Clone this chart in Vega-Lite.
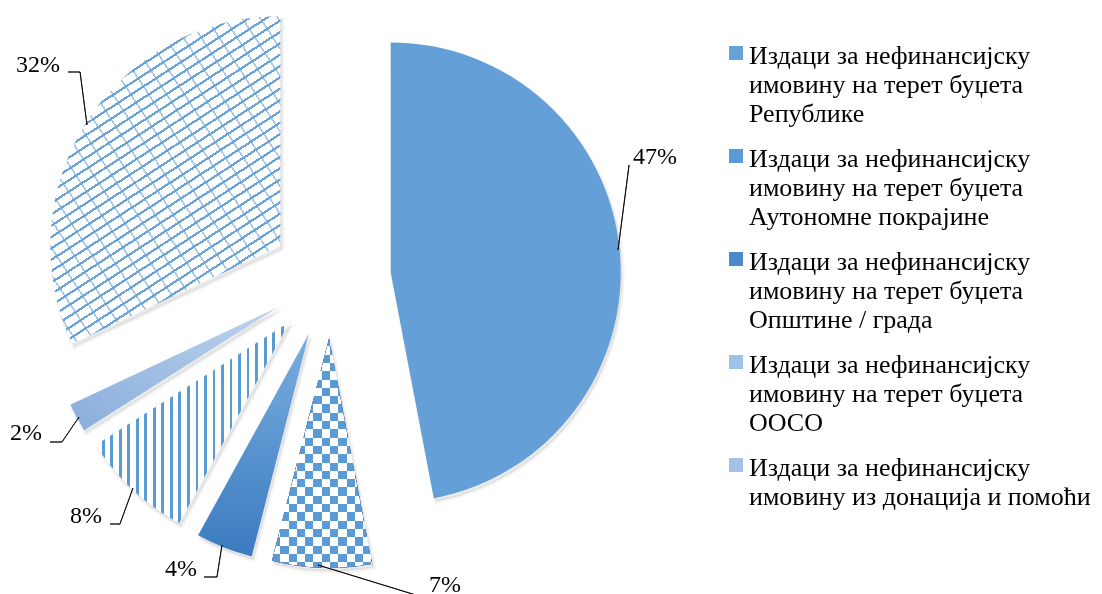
{
  "$schema": "https://vega.github.io/schema/vega-lite/v6.json",
  "width": 662,
  "height": 556,
  "padding": 0,
  "autosize": {"type": "pad"},
  "background": "#ffffff",
  "config": {"view": {"stroke": null}},
  "data": {
    "values": [
      {"category": "Издаци за нефинансијску имовину на терет буџета Републике", "value": 0.47, "order": 1},
      {"category": "Издаци за нефинансијску имовину на терет буџета Аутономне покрајине", "value": 0.07, "order": 2},
      {"category": "Издаци за нефинансијску имовину на терет буџета Општине / града", "value": 0.04, "order": 3},
      {"category": "Издаци за нефинансијску имовину на терет буџета ООСО", "value": 0.08, "order": 4},
      {"category": "Издаци за нефинансијску имовину из донација и помоћи", "value": 0.02, "order": 5},
      {"category": "Издаци за нефинансијску имовину из осталих извора", "value": 0.32, "order": 6}
    ]
  },
  "transform": [
    {"stack": "value", "groupby": [], "sort": [{"field": "order", "order": "ascending"}], "as": ["v0", "v1"]}
  ],
  "layer": [
    {
      "mark": {"type": "arc", "radius": 230, "opacity": 0},
      "encoding": {
        "theta": {"field": "v0", "type": "quantitative", "scale": {"domain": [0, 1]}},
        "theta2": {"field": "v1"},
        "color": {
          "field": "category", "type": "nominal",
          "scale": {
            "domain": [
              "Издаци за нефинансијску имовину на терет буџета Републике",
              "Издаци за нефинансијску имовину на терет буџета Аутономне покрајине",
              "Издаци за нефинансијску имовину на терет буџета Општине / града",
              "Издаци за нефинансијску имовину на терет буџета ООСО",
              "Издаци за нефинансијску имовину из донација и помоћи",
              "Издаци за нефинансијску имовину из осталих извора"
            ],
            "range": ["#68a2d8", "#5b9bd5", "#4a89cb", "#9cc3e9", "#a3c0e6", "#cfe0f2"]
          },
          "legend": {
            "orient": "none", "legendX": 723, "legendY": 40, "padding": 0,
            "title": null,
            "values": [
              "Издаци за нефинансијску имовину на терет буџета Републике",
              "Издаци за нефинансијску имовину на терет буџета Аутономне покрајине",
              "Издаци за нефинансијску имовину на терет буџета Општине / града",
              "Издаци за нефинансијску имовину на терет буџета ООСО",
              "Издаци за нефинансијску имовину из донација и помоћи"
            ],
            "symbolType": "square", "symbolSize": 196, "symbolOpacity": 1, "symbolStrokeWidth": 0,
            "labelFont": "Liberation Serif", "labelFontSize": 26, "labelColor": "#000000", "labelLimit": 0,
            "labelBaseline": "top", "labelOffset": 0, "rowPadding": 16,
            "labelExpr": "split(replace(replace(datum.label, 'нефинансијску ', 'нефинансијску|'), 'буџета ', 'буџета|'), '|')",
            "encode": {"labels": {"update": {"lineHeight": {"value": 29}, "dy": {"value": -10.5}}}}
          }
        }
      }
    },
    {
      "transform": [{"filter": "datum.order == 1"}],
      "layer": [
        {
          "mark": {"type": "arc", "radius": 230, "xOffset": 61.7, "yOffset": -2.1, "fill": "#000000", "fillOpacity": 0.08, "stroke": "#000000", "strokeOpacity": 0.04, "strokeWidth": 4},
          "encoding": {"theta": {"field": "v0", "type": "quantitative", "scale": {"domain": [0, 1]}}, "theta2": {"field": "v1"}}
        },
        {
          "mark": {"type": "arc", "radius": 230, "xOffset": 59.7, "yOffset": -5.6, "fill": "#64a0d7"},
          "encoding": {"theta": {"field": "v0", "type": "quantitative", "scale": {"domain": [0, 1]}}, "theta2": {"field": "v1"}}
        },
        {
          "mark": {"type": "text", "radius": 288.4, "thetaOffset": 1.1593, "xOffset": 59.7, "yOffset": -5.6, "font": "Liberation Serif", "fontSize": 24, "color": "#000000"},
          "encoding": {"theta": {"field": "v0", "type": "quantitative", "stack": null}, "text": {"field": "value", "type": "quantitative", "format": ".0%"}}
        },
        {
          "mark": {"type": "arc", "theta": 0.1287, "theta2": 0.1307, "radius": 85.7, "radius2": 0, "xOffset": 287, "yOffset": -28, "fill": "#000000", "stroke": "#000000", "strokeWidth": 0.8},
          "encoding": {}
        }
      ]
    },
    {
      "transform": [{"filter": "datum.order == 2"}],
      "layer": [
        {
          "mark": {"type": "arc", "radius": 230, "xOffset": 0.1, "yOffset": 63.5, "fill": "#000000", "fillOpacity": 0.08, "stroke": "#000000", "strokeOpacity": 0.04, "strokeWidth": 4},
          "encoding": {"theta": {"field": "v0", "type": "quantitative", "scale": {"domain": [0, 1]}}, "theta2": {"field": "v1"}}
        },
        {
          "mark": {"type": "arc", "radius": 230, "xOffset": -1.9, "yOffset": 60,
            "fill": {"gradient": "linear", "x1": 0, "y1": 0, "x2": 1, "y2": 0, "stops": [
              {"offset": 0, "color": "#000000"}, {"offset": 0.0828, "color": "#000000"}, {"offset": 0.0828, "color": "#ffffff"}, {"offset": 0.1655, "color": "#ffffff"},
              {"offset": 0.1655, "color": "#000000"}, {"offset": 0.2483, "color": "#000000"}, {"offset": 0.2483, "color": "#ffffff"}, {"offset": 0.331, "color": "#ffffff"},
              {"offset": 0.331, "color": "#000000"}, {"offset": 0.4138, "color": "#000000"}, {"offset": 0.4138, "color": "#ffffff"}, {"offset": 0.4965, "color": "#ffffff"},
              {"offset": 0.4965, "color": "#000000"}, {"offset": 0.5793, "color": "#000000"}, {"offset": 0.5793, "color": "#ffffff"}, {"offset": 0.662, "color": "#ffffff"},
              {"offset": 0.662, "color": "#000000"}, {"offset": 0.7448, "color": "#000000"}, {"offset": 0.7448, "color": "#ffffff"}, {"offset": 0.8275, "color": "#ffffff"},
              {"offset": 0.8275, "color": "#000000"}, {"offset": 0.9103, "color": "#000000"}, {"offset": 0.9103, "color": "#ffffff"}, {"offset": 0.993, "color": "#ffffff"},
              {"offset": 0.993, "color": "#000000"}, {"offset": 1, "color": "#000000"}
            ]}},
          "encoding": {"theta": {"field": "v0", "type": "quantitative", "scale": {"domain": [0, 1]}}, "theta2": {"field": "v1"}}
        },
        {
          "mark": {"type": "arc", "radius": 230, "xOffset": -1.9, "yOffset": 60, "blend": "difference",
            "fill": {"gradient": "linear", "x1": 0, "y1": 0, "x2": 0, "y2": 1, "stops": [
              {"offset": 0, "color": "#000000"}, {"offset": 0.0361, "color": "#000000"}, {"offset": 0.0361, "color": "#ffffff"}, {"offset": 0.0722, "color": "#ffffff"},
              {"offset": 0.0722, "color": "#000000"}, {"offset": 0.1083, "color": "#000000"}, {"offset": 0.1083, "color": "#ffffff"}, {"offset": 0.1444, "color": "#ffffff"},
              {"offset": 0.1444, "color": "#000000"}, {"offset": 0.1805, "color": "#000000"}, {"offset": 0.1805, "color": "#ffffff"}, {"offset": 0.2165, "color": "#ffffff"},
              {"offset": 0.2165, "color": "#000000"}, {"offset": 0.2526, "color": "#000000"}, {"offset": 0.2526, "color": "#ffffff"}, {"offset": 0.2887, "color": "#ffffff"},
              {"offset": 0.2887, "color": "#000000"}, {"offset": 0.3248, "color": "#000000"}, {"offset": 0.3248, "color": "#ffffff"}, {"offset": 0.3609, "color": "#ffffff"},
              {"offset": 0.3609, "color": "#000000"}, {"offset": 0.397, "color": "#000000"}, {"offset": 0.397, "color": "#ffffff"}, {"offset": 0.4331, "color": "#ffffff"},
              {"offset": 0.4331, "color": "#000000"}, {"offset": 0.4692, "color": "#000000"}, {"offset": 0.4692, "color": "#ffffff"}, {"offset": 0.5053, "color": "#ffffff"},
              {"offset": 0.5053, "color": "#000000"}, {"offset": 0.5414, "color": "#000000"}, {"offset": 0.5414, "color": "#ffffff"}, {"offset": 0.5774, "color": "#ffffff"},
              {"offset": 0.5774, "color": "#000000"}, {"offset": 0.6135, "color": "#000000"}, {"offset": 0.6135, "color": "#ffffff"}, {"offset": 0.6496, "color": "#ffffff"},
              {"offset": 0.6496, "color": "#000000"}, {"offset": 0.6857, "color": "#000000"}, {"offset": 0.6857, "color": "#ffffff"}, {"offset": 0.7218, "color": "#ffffff"},
              {"offset": 0.7218, "color": "#000000"}, {"offset": 0.7579, "color": "#000000"}, {"offset": 0.7579, "color": "#ffffff"}, {"offset": 0.794, "color": "#ffffff"},
              {"offset": 0.794, "color": "#000000"}, {"offset": 0.8301, "color": "#000000"}, {"offset": 0.8301, "color": "#ffffff"}, {"offset": 0.8662, "color": "#ffffff"},
              {"offset": 0.8662, "color": "#000000"}, {"offset": 0.9023, "color": "#000000"}, {"offset": 0.9023, "color": "#ffffff"}, {"offset": 0.9383, "color": "#ffffff"},
              {"offset": 0.9383, "color": "#000000"}, {"offset": 0.9744, "color": "#000000"}, {"offset": 0.9744, "color": "#ffffff"}, {"offset": 1, "color": "#ffffff"}
            ]}},
          "encoding": {"theta": {"field": "v0", "type": "quantitative", "scale": {"domain": [0, 1]}}, "theta2": {"field": "v1"}}
        },
        {
          "mark": {"type": "arc", "radius": 230, "xOffset": -1.9, "yOffset": 60, "blend": "lighten", "fill": "#5b9bd5"},
          "encoding": {"theta": {"field": "v0", "type": "quantitative", "scale": {"domain": [0, 1]}}, "theta2": {"field": "v1"}}
        },
        {
          "mark": {"type": "text", "radius": 272.8, "thetaOffset": -0.2503, "xOffset": -1.9, "yOffset": 60, "font": "Liberation Serif", "fontSize": 24, "color": "#000000"},
          "encoding": {"theta": {"field": "v0", "type": "quantitative", "stack": null}, "text": {"field": "value", "type": "quantitative", "format": ".0%"}}
        },
        {
          "mark": {"type": "arc", "theta": 1.8675, "theta2": 1.8695, "radius": 110, "radius2": 0, "xOffset": -13, "yOffset": 287, "fill": "#000000", "stroke": "#000000", "strokeWidth": 0.8},
          "encoding": {}
        }
      ]
    },
    {
      "transform": [{"filter": "datum.order == 3"}],
      "layer": [
        {
          "mark": {"type": "arc", "radius": 230, "xOffset": -20.1, "yOffset": 59.3, "fill": "#000000", "fillOpacity": 0.08, "stroke": "#000000", "strokeOpacity": 0.04, "strokeWidth": 4},
          "encoding": {"theta": {"field": "v0", "type": "quantitative", "scale": {"domain": [0, 1]}}, "theta2": {"field": "v1"}}
        },
        {
          "mark": {"type": "arc", "radius": 230, "xOffset": -22.1, "yOffset": 55.8,
            "fill": {"gradient": "linear", "x1": 0, "y1": 0, "x2": 0, "y2": 1, "stops": [{"offset": 0, "color": "#7aaedf"}, {"offset": 1, "color": "#3b7bc0"}]}},
          "encoding": {"theta": {"field": "v0", "type": "quantitative", "scale": {"domain": [0, 1]}}, "theta2": {"field": "v1"}}
        },
        {
          "mark": {"type": "text", "radius": 267.7, "thetaOffset": 0.2468, "xOffset": -22.1, "yOffset": 55.8, "font": "Liberation Serif", "fontSize": 24, "color": "#000000"},
          "encoding": {"theta": {"field": "v0", "type": "quantitative", "stack": null}, "text": {"field": "value", "type": "quantitative", "format": ".0%"}}
        },
        {
          "mark": {"type": "arc", "theta": 3.2966, "theta2": 3.2986, "radius": 32.4, "radius2": 0, "xOffset": -109, "yOffset": 267, "fill": "#000000", "stroke": "#000000", "strokeWidth": 0.8},
          "encoding": {}
        },
        {
          "mark": {"type": "arc", "theta": 4.7124, "theta2": 4.7144, "radius": 13, "radius2": 0, "xOffset": -114, "yOffset": 299, "fill": "#000000", "stroke": "#000000", "strokeWidth": 0.8},
          "encoding": {}
        }
      ]
    },
    {
      "transform": [{"filter": "datum.order == 4"}],
      "layer": [
        {
          "mark": {"type": "arc", "radius": 230, "xOffset": -39.1, "yOffset": 47.2, "fill": "#000000", "fillOpacity": 0.08, "stroke": "#000000", "strokeOpacity": 0.04, "strokeWidth": 4},
          "encoding": {"theta": {"field": "v0", "type": "quantitative", "scale": {"domain": [0, 1]}}, "theta2": {"field": "v1"}}
        },
        {
          "mark": {"type": "arc", "radius": 230, "xOffset": -41.1, "yOffset": 43.7,
            "fill": {"gradient": "linear", "x1": 0, "y1": 0, "x2": 1, "y2": 0, "stops": [
              {"offset": 0.0309, "color": "#ffffff"}, {"offset": 0.0309, "color": "#5b9bd5"}, {"offset": 0.0453, "color": "#5b9bd5"}, {"offset": 0.0453, "color": "#ffffff"},
              {"offset": 0.0748, "color": "#ffffff"}, {"offset": 0.0748, "color": "#5b9bd5"}, {"offset": 0.0892, "color": "#5b9bd5"}, {"offset": 0.0892, "color": "#ffffff"},
              {"offset": 0.1187, "color": "#ffffff"}, {"offset": 0.1187, "color": "#5b9bd5"}, {"offset": 0.1331, "color": "#5b9bd5"}, {"offset": 0.1331, "color": "#ffffff"},
              {"offset": 0.1627, "color": "#ffffff"}, {"offset": 0.1627, "color": "#5b9bd5"}, {"offset": 0.1771, "color": "#5b9bd5"}, {"offset": 0.1771, "color": "#ffffff"},
              {"offset": 0.2066, "color": "#ffffff"}, {"offset": 0.2066, "color": "#5b9bd5"}, {"offset": 0.221, "color": "#5b9bd5"}, {"offset": 0.221, "color": "#ffffff"},
              {"offset": 0.2505, "color": "#ffffff"}, {"offset": 0.2505, "color": "#5b9bd5"}, {"offset": 0.2649, "color": "#5b9bd5"}, {"offset": 0.2649, "color": "#ffffff"},
              {"offset": 0.2944, "color": "#ffffff"}, {"offset": 0.2944, "color": "#5b9bd5"}, {"offset": 0.3088, "color": "#5b9bd5"}, {"offset": 0.3088, "color": "#ffffff"},
              {"offset": 0.3383, "color": "#ffffff"}, {"offset": 0.3383, "color": "#5b9bd5"}, {"offset": 0.3527, "color": "#5b9bd5"}, {"offset": 0.3527, "color": "#ffffff"},
              {"offset": 0.3823, "color": "#ffffff"}, {"offset": 0.3823, "color": "#5b9bd5"}, {"offset": 0.3967, "color": "#5b9bd5"}, {"offset": 0.3967, "color": "#ffffff"},
              {"offset": 0.4262, "color": "#ffffff"}, {"offset": 0.4262, "color": "#5b9bd5"}, {"offset": 0.4406, "color": "#5b9bd5"}, {"offset": 0.4406, "color": "#ffffff"},
              {"offset": 0.4701, "color": "#ffffff"}, {"offset": 0.4701, "color": "#5b9bd5"}, {"offset": 0.4845, "color": "#5b9bd5"}, {"offset": 0.4845, "color": "#ffffff"},
              {"offset": 0.514, "color": "#ffffff"}, {"offset": 0.514, "color": "#5b9bd5"}, {"offset": 0.5284, "color": "#5b9bd5"}, {"offset": 0.5284, "color": "#ffffff"},
              {"offset": 0.5579, "color": "#ffffff"}, {"offset": 0.5579, "color": "#5b9bd5"}, {"offset": 0.5723, "color": "#5b9bd5"}, {"offset": 0.5723, "color": "#ffffff"},
              {"offset": 0.6019, "color": "#ffffff"}, {"offset": 0.6019, "color": "#5b9bd5"}, {"offset": 0.6163, "color": "#5b9bd5"}, {"offset": 0.6163, "color": "#ffffff"},
              {"offset": 0.6458, "color": "#ffffff"}, {"offset": 0.6458, "color": "#5b9bd5"}, {"offset": 0.6602, "color": "#5b9bd5"}, {"offset": 0.6602, "color": "#ffffff"},
              {"offset": 0.6897, "color": "#ffffff"}, {"offset": 0.6897, "color": "#5b9bd5"}, {"offset": 0.7041, "color": "#5b9bd5"}, {"offset": 0.7041, "color": "#ffffff"},
              {"offset": 0.7336, "color": "#ffffff"}, {"offset": 0.7336, "color": "#5b9bd5"}, {"offset": 0.748, "color": "#5b9bd5"}, {"offset": 0.748, "color": "#ffffff"},
              {"offset": 0.7775, "color": "#ffffff"}, {"offset": 0.7775, "color": "#5b9bd5"}, {"offset": 0.7919, "color": "#5b9bd5"}, {"offset": 0.7919, "color": "#ffffff"},
              {"offset": 0.8215, "color": "#ffffff"}, {"offset": 0.8215, "color": "#5b9bd5"}, {"offset": 0.8359, "color": "#5b9bd5"}, {"offset": 0.8359, "color": "#ffffff"},
              {"offset": 0.8654, "color": "#ffffff"}, {"offset": 0.8654, "color": "#5b9bd5"}, {"offset": 0.8798, "color": "#5b9bd5"}, {"offset": 0.8798, "color": "#ffffff"},
              {"offset": 0.9093, "color": "#ffffff"}, {"offset": 0.9093, "color": "#5b9bd5"}, {"offset": 0.9237, "color": "#5b9bd5"}, {"offset": 0.9237, "color": "#ffffff"},
              {"offset": 0.9532, "color": "#ffffff"}, {"offset": 0.9532, "color": "#5b9bd5"}, {"offset": 0.9676, "color": "#5b9bd5"}, {"offset": 0.9676, "color": "#ffffff"},
              {"offset": 0.9971, "color": "#ffffff"}, {"offset": 0.9971, "color": "#5b9bd5"}, {"offset": 1, "color": "#5b9bd5"}
            ]}},
          "encoding": {"theta": {"field": "v0", "type": "quantitative", "scale": {"domain": [0, 1]}}, "theta2": {"field": "v1"}}
        },
        {
          "mark": {"type": "text", "radius": 281.6, "thetaOffset": 0.3068, "xOffset": -41.1, "yOffset": 43.7, "font": "Liberation Serif", "fontSize": 24, "color": "#000000"},
          "encoding": {"theta": {"field": "v0", "type": "quantitative", "stack": null}, "text": {"field": "value", "type": "quantitative", "format": ".0%"}}
        },
        {
          "mark": {"type": "arc", "theta": 3.488, "theta2": 3.49, "radius": 38.3, "radius2": 0, "xOffset": -198, "yOffset": 210, "fill": "#000000", "stroke": "#000000", "strokeWidth": 0.8},
          "encoding": {}
        },
        {
          "mark": {"type": "arc", "theta": 4.7124, "theta2": 4.7144, "radius": 10, "radius2": 0, "xOffset": -211, "yOffset": 246, "fill": "#000000", "stroke": "#000000", "strokeWidth": 0.8},
          "encoding": {}
        }
      ]
    },
    {
      "transform": [{"filter": "datum.order == 5"}],
      "layer": [
        {
          "mark": {"type": "arc", "radius": 230, "xOffset": -50.6, "yOffset": 32.4, "fill": "#000000", "fillOpacity": 0.08, "stroke": "#000000", "strokeOpacity": 0.04, "strokeWidth": 4},
          "encoding": {"theta": {"field": "v0", "type": "quantitative", "scale": {"domain": [0, 1]}}, "theta2": {"field": "v1"}}
        },
        {
          "mark": {"type": "arc", "radius": 230, "xOffset": -52.6, "yOffset": 28.9,
            "fill": {"gradient": "linear", "x1": 1, "y1": 0, "x2": 0, "y2": 1, "stops": [{"offset": 0, "color": "#bdd4ee"}, {"offset": 1, "color": "#89addb"}]}},
          "encoding": {"theta": {"field": "v0", "type": "quantitative", "scale": {"domain": [0, 1]}}, "theta2": {"field": "v1"}}
        },
        {
          "mark": {"type": "text", "radius": 282.2, "thetaOffset": 0.1021, "xOffset": -52.6, "yOffset": 28.9, "font": "Liberation Serif", "fontSize": 24, "color": "#000000"},
          "encoding": {"theta": {"field": "v0", "type": "quantitative", "stack": null}, "text": {"field": "value", "type": "quantitative", "format": ".0%"}}
        },
        {
          "mark": {"type": "arc", "theta": 3.7385, "theta2": 3.7405, "radius": 30.2, "radius2": 0, "xOffset": -252, "yOffset": 139, "fill": "#000000", "stroke": "#000000", "strokeWidth": 0.8},
          "encoding": {}
        },
        {
          "mark": {"type": "arc", "theta": 4.7124, "theta2": 4.7144, "radius": 12, "radius2": 0, "xOffset": -269, "yOffset": 164, "fill": "#000000", "stroke": "#000000", "strokeWidth": 0.8},
          "encoding": {}
        }
      ]
    },
    {
      "transform": [{"filter": "datum.order == 6"}],
      "layer": [
        {
          "mark": {"type": "arc", "radius": 230, "xOffset": -48.7, "yOffset": -28.6, "fill": "#000000", "fillOpacity": 0.08, "stroke": "#000000", "strokeOpacity": 0.04, "strokeWidth": 4},
          "encoding": {"theta": {"field": "v0", "type": "quantitative", "scale": {"domain": [0, 1]}}, "theta2": {"field": "v1"}}
        },
        {
          "mark": {"type": "arc", "radius": 230, "xOffset": -50.7, "yOffset": -32.1,
            "fill": {"gradient": "linear", "x1": 0, "y1": 0, "x2": 0.5485, "y2": 1.2055, "stops": [
              {"offset": 0.01, "color": "#ffffff"}, {"offset": 0.01, "color": "#6aa3da"}, {"offset": 0.0155, "color": "#6aa3da"}, {"offset": 0.0155, "color": "#ffffff"},
              {"offset": 0.0338, "color": "#ffffff"}, {"offset": 0.0338, "color": "#6aa3da"}, {"offset": 0.0393, "color": "#6aa3da"}, {"offset": 0.0393, "color": "#ffffff"},
              {"offset": 0.0576, "color": "#ffffff"}, {"offset": 0.0576, "color": "#6aa3da"}, {"offset": 0.0631, "color": "#6aa3da"}, {"offset": 0.0631, "color": "#ffffff"},
              {"offset": 0.0814, "color": "#ffffff"}, {"offset": 0.0814, "color": "#6aa3da"}, {"offset": 0.0869, "color": "#6aa3da"}, {"offset": 0.0869, "color": "#ffffff"},
              {"offset": 0.1052, "color": "#ffffff"}, {"offset": 0.1052, "color": "#6aa3da"}, {"offset": 0.1107, "color": "#6aa3da"}, {"offset": 0.1107, "color": "#ffffff"},
              {"offset": 0.129, "color": "#ffffff"}, {"offset": 0.129, "color": "#6aa3da"}, {"offset": 0.1345, "color": "#6aa3da"}, {"offset": 0.1345, "color": "#ffffff"},
              {"offset": 0.1528, "color": "#ffffff"}, {"offset": 0.1528, "color": "#6aa3da"}, {"offset": 0.1583, "color": "#6aa3da"}, {"offset": 0.1583, "color": "#ffffff"},
              {"offset": 0.1766, "color": "#ffffff"}, {"offset": 0.1766, "color": "#6aa3da"}, {"offset": 0.1821, "color": "#6aa3da"}, {"offset": 0.1821, "color": "#ffffff"},
              {"offset": 0.2004, "color": "#ffffff"}, {"offset": 0.2004, "color": "#6aa3da"}, {"offset": 0.2059, "color": "#6aa3da"}, {"offset": 0.2059, "color": "#ffffff"},
              {"offset": 0.2242, "color": "#ffffff"}, {"offset": 0.2242, "color": "#6aa3da"}, {"offset": 0.2297, "color": "#6aa3da"}, {"offset": 0.2297, "color": "#ffffff"},
              {"offset": 0.248, "color": "#ffffff"}, {"offset": 0.248, "color": "#6aa3da"}, {"offset": 0.2535, "color": "#6aa3da"}, {"offset": 0.2535, "color": "#ffffff"},
              {"offset": 0.2718, "color": "#ffffff"}, {"offset": 0.2718, "color": "#6aa3da"}, {"offset": 0.2773, "color": "#6aa3da"}, {"offset": 0.2773, "color": "#ffffff"},
              {"offset": 0.2956, "color": "#ffffff"}, {"offset": 0.2956, "color": "#6aa3da"}, {"offset": 0.3011, "color": "#6aa3da"}, {"offset": 0.3011, "color": "#ffffff"},
              {"offset": 0.3194, "color": "#ffffff"}, {"offset": 0.3194, "color": "#6aa3da"}, {"offset": 0.3249, "color": "#6aa3da"}, {"offset": 0.3249, "color": "#ffffff"},
              {"offset": 0.3432, "color": "#ffffff"}, {"offset": 0.3432, "color": "#6aa3da"}, {"offset": 0.3487, "color": "#6aa3da"}, {"offset": 0.3487, "color": "#ffffff"},
              {"offset": 0.367, "color": "#ffffff"}, {"offset": 0.367, "color": "#6aa3da"}, {"offset": 0.3725, "color": "#6aa3da"}, {"offset": 0.3725, "color": "#ffffff"},
              {"offset": 0.3908, "color": "#ffffff"}, {"offset": 0.3908, "color": "#6aa3da"}, {"offset": 0.3963, "color": "#6aa3da"}, {"offset": 0.3963, "color": "#ffffff"},
              {"offset": 0.4146, "color": "#ffffff"}, {"offset": 0.4146, "color": "#6aa3da"}, {"offset": 0.4201, "color": "#6aa3da"}, {"offset": 0.4201, "color": "#ffffff"},
              {"offset": 0.4384, "color": "#ffffff"}, {"offset": 0.4384, "color": "#6aa3da"}, {"offset": 0.4439, "color": "#6aa3da"}, {"offset": 0.4439, "color": "#ffffff"},
              {"offset": 0.4622, "color": "#ffffff"}, {"offset": 0.4622, "color": "#6aa3da"}, {"offset": 0.4677, "color": "#6aa3da"}, {"offset": 0.4677, "color": "#ffffff"},
              {"offset": 0.486, "color": "#ffffff"}, {"offset": 0.486, "color": "#6aa3da"}, {"offset": 0.4915, "color": "#6aa3da"}, {"offset": 0.4915, "color": "#ffffff"},
              {"offset": 0.5098, "color": "#ffffff"}, {"offset": 0.5098, "color": "#6aa3da"}, {"offset": 0.5153, "color": "#6aa3da"}, {"offset": 0.5153, "color": "#ffffff"},
              {"offset": 0.5336, "color": "#ffffff"}, {"offset": 0.5336, "color": "#6aa3da"}, {"offset": 0.5391, "color": "#6aa3da"}, {"offset": 0.5391, "color": "#ffffff"},
              {"offset": 0.5574, "color": "#ffffff"}, {"offset": 0.5574, "color": "#6aa3da"}, {"offset": 0.5629, "color": "#6aa3da"}, {"offset": 0.5629, "color": "#ffffff"},
              {"offset": 0.5812, "color": "#ffffff"}, {"offset": 0.5812, "color": "#6aa3da"}, {"offset": 0.5867, "color": "#6aa3da"}, {"offset": 0.5867, "color": "#ffffff"},
              {"offset": 0.605, "color": "#ffffff"}, {"offset": 0.605, "color": "#6aa3da"}, {"offset": 0.6105, "color": "#6aa3da"}, {"offset": 0.6105, "color": "#ffffff"},
              {"offset": 0.6288, "color": "#ffffff"}, {"offset": 0.6288, "color": "#6aa3da"}, {"offset": 0.6343, "color": "#6aa3da"}, {"offset": 0.6343, "color": "#ffffff"},
              {"offset": 0.6526, "color": "#ffffff"}, {"offset": 0.6526, "color": "#6aa3da"}, {"offset": 0.6581, "color": "#6aa3da"}, {"offset": 0.6581, "color": "#ffffff"},
              {"offset": 0.6764, "color": "#ffffff"}, {"offset": 0.6764, "color": "#6aa3da"}, {"offset": 0.6819, "color": "#6aa3da"}, {"offset": 0.6819, "color": "#ffffff"},
              {"offset": 0.7002, "color": "#ffffff"}, {"offset": 0.7002, "color": "#6aa3da"}, {"offset": 0.7057, "color": "#6aa3da"}, {"offset": 0.7057, "color": "#ffffff"},
              {"offset": 0.724, "color": "#ffffff"}, {"offset": 0.724, "color": "#6aa3da"}, {"offset": 0.7295, "color": "#6aa3da"}, {"offset": 0.7295, "color": "#ffffff"},
              {"offset": 0.7478, "color": "#ffffff"}, {"offset": 0.7478, "color": "#6aa3da"}, {"offset": 0.7533, "color": "#6aa3da"}, {"offset": 0.7533, "color": "#ffffff"},
              {"offset": 0.7716, "color": "#ffffff"}, {"offset": 0.7716, "color": "#6aa3da"}, {"offset": 0.7771, "color": "#6aa3da"}, {"offset": 0.7771, "color": "#ffffff"},
              {"offset": 0.7954, "color": "#ffffff"}, {"offset": 0.7954, "color": "#6aa3da"}, {"offset": 0.8009, "color": "#6aa3da"}, {"offset": 0.8009, "color": "#ffffff"},
              {"offset": 0.8192, "color": "#ffffff"}, {"offset": 0.8192, "color": "#6aa3da"}, {"offset": 0.8247, "color": "#6aa3da"}, {"offset": 0.8247, "color": "#ffffff"},
              {"offset": 0.843, "color": "#ffffff"}, {"offset": 0.843, "color": "#6aa3da"}, {"offset": 0.8485, "color": "#6aa3da"}, {"offset": 0.8485, "color": "#ffffff"},
              {"offset": 0.8668, "color": "#ffffff"}, {"offset": 0.8668, "color": "#6aa3da"}, {"offset": 0.8723, "color": "#6aa3da"}, {"offset": 0.8723, "color": "#ffffff"},
              {"offset": 0.8906, "color": "#ffffff"}, {"offset": 0.8906, "color": "#6aa3da"}, {"offset": 0.8961, "color": "#6aa3da"}, {"offset": 0.8961, "color": "#ffffff"},
              {"offset": 0.9144, "color": "#ffffff"}, {"offset": 0.9144, "color": "#6aa3da"}, {"offset": 0.9199, "color": "#6aa3da"}, {"offset": 0.9199, "color": "#ffffff"},
              {"offset": 0.9382, "color": "#ffffff"}, {"offset": 0.9382, "color": "#6aa3da"}, {"offset": 0.9437, "color": "#6aa3da"}, {"offset": 0.9437, "color": "#ffffff"},
              {"offset": 0.962, "color": "#ffffff"}, {"offset": 0.962, "color": "#6aa3da"}, {"offset": 0.9675, "color": "#6aa3da"}, {"offset": 0.9675, "color": "#ffffff"},
              {"offset": 0.9858, "color": "#ffffff"}, {"offset": 0.9858, "color": "#6aa3da"}, {"offset": 0.9913, "color": "#6aa3da"}, {"offset": 0.9913, "color": "#ffffff"}
            ]}},
          "encoding": {"theta": {"field": "v0", "type": "quantitative", "scale": {"domain": [0, 1]}}, "theta2": {"field": "v1"}}
        },
        {
          "mark": {"type": "arc", "radius": 230, "xOffset": -50.7, "yOffset": -32.1,
            "fill": {"gradient": "linear", "x1": 0, "y1": 1, "x2": 1.0369, "y2": 0.0398, "stops": [
              {"offset": 0.02, "color": "rgba(106,163,218,0)"}, {"offset": 0.02, "color": "rgba(106,163,218,0.6)"}, {"offset": 0.0245, "color": "rgba(106,163,218,0.6)"}, {"offset": 0.0245, "color": "rgba(106,163,218,0)"},
              {"offset": 0.0604, "color": "rgba(106,163,218,0)"}, {"offset": 0.0604, "color": "rgba(106,163,218,0.6)"}, {"offset": 0.0649, "color": "rgba(106,163,218,0.6)"}, {"offset": 0.0649, "color": "rgba(106,163,218,0)"},
              {"offset": 0.1008, "color": "rgba(106,163,218,0)"}, {"offset": 0.1008, "color": "rgba(106,163,218,0.6)"}, {"offset": 0.1053, "color": "rgba(106,163,218,0.6)"}, {"offset": 0.1053, "color": "rgba(106,163,218,0)"},
              {"offset": 0.1412, "color": "rgba(106,163,218,0)"}, {"offset": 0.1412, "color": "rgba(106,163,218,0.6)"}, {"offset": 0.1457, "color": "rgba(106,163,218,0.6)"}, {"offset": 0.1457, "color": "rgba(106,163,218,0)"},
              {"offset": 0.1816, "color": "rgba(106,163,218,0)"}, {"offset": 0.1816, "color": "rgba(106,163,218,0.6)"}, {"offset": 0.1861, "color": "rgba(106,163,218,0.6)"}, {"offset": 0.1861, "color": "rgba(106,163,218,0)"},
              {"offset": 0.222, "color": "rgba(106,163,218,0)"}, {"offset": 0.222, "color": "rgba(106,163,218,0.6)"}, {"offset": 0.2265, "color": "rgba(106,163,218,0.6)"}, {"offset": 0.2265, "color": "rgba(106,163,218,0)"},
              {"offset": 0.2624, "color": "rgba(106,163,218,0)"}, {"offset": 0.2624, "color": "rgba(106,163,218,0.6)"}, {"offset": 0.2669, "color": "rgba(106,163,218,0.6)"}, {"offset": 0.2669, "color": "rgba(106,163,218,0)"},
              {"offset": 0.3028, "color": "rgba(106,163,218,0)"}, {"offset": 0.3028, "color": "rgba(106,163,218,0.6)"}, {"offset": 0.3073, "color": "rgba(106,163,218,0.6)"}, {"offset": 0.3073, "color": "rgba(106,163,218,0)"},
              {"offset": 0.3432, "color": "rgba(106,163,218,0)"}, {"offset": 0.3432, "color": "rgba(106,163,218,0.6)"}, {"offset": 0.3477, "color": "rgba(106,163,218,0.6)"}, {"offset": 0.3477, "color": "rgba(106,163,218,0)"},
              {"offset": 0.3836, "color": "rgba(106,163,218,0)"}, {"offset": 0.3836, "color": "rgba(106,163,218,0.6)"}, {"offset": 0.3881, "color": "rgba(106,163,218,0.6)"}, {"offset": 0.3881, "color": "rgba(106,163,218,0)"},
              {"offset": 0.424, "color": "rgba(106,163,218,0)"}, {"offset": 0.424, "color": "rgba(106,163,218,0.6)"}, {"offset": 0.4285, "color": "rgba(106,163,218,0.6)"}, {"offset": 0.4285, "color": "rgba(106,163,218,0)"},
              {"offset": 0.4644, "color": "rgba(106,163,218,0)"}, {"offset": 0.4644, "color": "rgba(106,163,218,0.6)"}, {"offset": 0.4689, "color": "rgba(106,163,218,0.6)"}, {"offset": 0.4689, "color": "rgba(106,163,218,0)"},
              {"offset": 0.5048, "color": "rgba(106,163,218,0)"}, {"offset": 0.5048, "color": "rgba(106,163,218,0.6)"}, {"offset": 0.5093, "color": "rgba(106,163,218,0.6)"}, {"offset": 0.5093, "color": "rgba(106,163,218,0)"},
              {"offset": 0.5452, "color": "rgba(106,163,218,0)"}, {"offset": 0.5452, "color": "rgba(106,163,218,0.6)"}, {"offset": 0.5497, "color": "rgba(106,163,218,0.6)"}, {"offset": 0.5497, "color": "rgba(106,163,218,0)"},
              {"offset": 0.5856, "color": "rgba(106,163,218,0)"}, {"offset": 0.5856, "color": "rgba(106,163,218,0.6)"}, {"offset": 0.5901, "color": "rgba(106,163,218,0.6)"}, {"offset": 0.5901, "color": "rgba(106,163,218,0)"},
              {"offset": 0.626, "color": "rgba(106,163,218,0)"}, {"offset": 0.626, "color": "rgba(106,163,218,0.6)"}, {"offset": 0.6305, "color": "rgba(106,163,218,0.6)"}, {"offset": 0.6305, "color": "rgba(106,163,218,0)"},
              {"offset": 0.6664, "color": "rgba(106,163,218,0)"}, {"offset": 0.6664, "color": "rgba(106,163,218,0.6)"}, {"offset": 0.6709, "color": "rgba(106,163,218,0.6)"}, {"offset": 0.6709, "color": "rgba(106,163,218,0)"},
              {"offset": 0.7068, "color": "rgba(106,163,218,0)"}, {"offset": 0.7068, "color": "rgba(106,163,218,0.6)"}, {"offset": 0.7113, "color": "rgba(106,163,218,0.6)"}, {"offset": 0.7113, "color": "rgba(106,163,218,0)"},
              {"offset": 0.7472, "color": "rgba(106,163,218,0)"}, {"offset": 0.7472, "color": "rgba(106,163,218,0.6)"}, {"offset": 0.7517, "color": "rgba(106,163,218,0.6)"}, {"offset": 0.7517, "color": "rgba(106,163,218,0)"},
              {"offset": 0.7876, "color": "rgba(106,163,218,0)"}, {"offset": 0.7876, "color": "rgba(106,163,218,0.6)"}, {"offset": 0.7921, "color": "rgba(106,163,218,0.6)"}, {"offset": 0.7921, "color": "rgba(106,163,218,0)"},
              {"offset": 0.828, "color": "rgba(106,163,218,0)"}, {"offset": 0.828, "color": "rgba(106,163,218,0.6)"}, {"offset": 0.8325, "color": "rgba(106,163,218,0.6)"}, {"offset": 0.8325, "color": "rgba(106,163,218,0)"},
              {"offset": 0.8684, "color": "rgba(106,163,218,0)"}, {"offset": 0.8684, "color": "rgba(106,163,218,0.6)"}, {"offset": 0.8729, "color": "rgba(106,163,218,0.6)"}, {"offset": 0.8729, "color": "rgba(106,163,218,0)"},
              {"offset": 0.9088, "color": "rgba(106,163,218,0)"}, {"offset": 0.9088, "color": "rgba(106,163,218,0.6)"}, {"offset": 0.9133, "color": "rgba(106,163,218,0.6)"}, {"offset": 0.9133, "color": "rgba(106,163,218,0)"},
              {"offset": 0.9492, "color": "rgba(106,163,218,0)"}, {"offset": 0.9492, "color": "rgba(106,163,218,0.6)"}, {"offset": 0.9537, "color": "rgba(106,163,218,0.6)"}, {"offset": 0.9537, "color": "rgba(106,163,218,0)"},
              {"offset": 0.9896, "color": "rgba(106,163,218,0)"}, {"offset": 0.9896, "color": "rgba(106,163,218,0.6)"}, {"offset": 0.9941, "color": "rgba(106,163,218,0.6)"}, {"offset": 0.9941, "color": "rgba(106,163,218,0)"}
            ]}},
          "encoding": {"theta": {"field": "v0", "type": "quantitative", "scale": {"domain": [0, 1]}}, "theta2": {"field": "v1"}}
        },
        {
          "mark": {"type": "text", "radius": 302.4, "thetaOffset": 1.0807, "xOffset": -50.7, "yOffset": -32.1, "font": "Liberation Serif", "fontSize": 24, "color": "#000000"},
          "encoding": {"theta": {"field": "v0", "type": "quantitative", "stack": null}, "text": {"field": "value", "type": "quantitative", "format": ".0%"}}
        },
        {
          "mark": {"type": "arc", "theta": 6.152, "theta2": 6.154, "radius": 53.5, "radius2": 0, "xOffset": -244, "yOffset": -153, "fill": "#000000", "stroke": "#000000", "strokeWidth": 0.8},
          "encoding": {}
        },
        {
          "mark": {"type": "arc", "theta": 4.7124, "theta2": 4.7144, "radius": 12, "radius2": 0, "xOffset": -251, "yOffset": -206, "fill": "#000000", "stroke": "#000000", "strokeWidth": 0.8},
          "encoding": {}
        }
      ]
    }
  ]
}
